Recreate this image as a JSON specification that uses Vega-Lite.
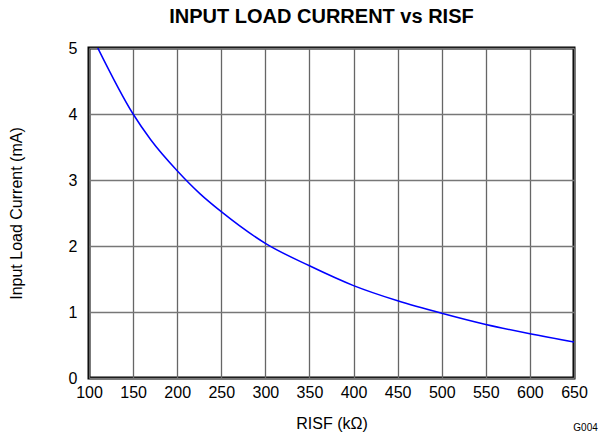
{
  "$schema": "https://vega.github.io/schema/vega-lite/v6.json",
  "autosize": "none",
  "width": 485,
  "height": 330,
  "padding": {"left": 89, "top": 48, "right": 34, "bottom": 58},
  "config": {
    "font": "Liberation Sans",
    "view": {"stroke": "black", "strokeWidth": 3}
  },
  "title": {
    "text": "INPUT LOAD CURRENT vs RISF",
    "font": "Liberation Sans",
    "fontSize": 20,
    "fontWeight": "bold",
    "color": "black",
    "anchor": "middle",
    "offset": 13,
    "dx": -10
  },
  "layer": [
    {
      "data": {
        "values": [
          {"r": 110, "i": 5.0},
          {"r": 150, "i": 4.0},
          {"r": 170, "i": 3.61},
          {"r": 200, "i": 3.14},
          {"r": 226, "i": 2.79},
          {"r": 250, "i": 2.52},
          {"r": 300, "i": 2.04},
          {"r": 350, "i": 1.7},
          {"r": 400, "i": 1.4},
          {"r": 450, "i": 1.17},
          {"r": 500, "i": 0.98},
          {"r": 550, "i": 0.81},
          {"r": 600, "i": 0.67},
          {"r": 650, "i": 0.545}
        ]
      },
      "mark": {"type": "line", "color": "#0000ff", "strokeWidth": 1.5, "interpolate": "monotone", "clip": true},
      "encoding": {
        "x": {
          "field": "r",
          "type": "quantitative",
          "scale": {"domain": [100, 650], "nice": false, "zero": false},
          "axis": {
            "values": [100, 150, 200, 250, 300, 350, 400, 450, 500, 550, 600, 650],
            "format": "d",
            "title": "RISF (kΩ)",
            "titleFont": "Liberation Sans",
            "titleFontSize": 16,
            "titleFontWeight": "normal",
            "titleColor": "black",
            "titlePadding": 15,
            "labelFontSize": 16,
            "labelColor": "black",
            "labelPadding": 6,
            "ticks": false,
            "domain": false,
            "grid": true,
            "gridColor": "#666666",
            "gridWidth": 1.3,
            "labelFlush": false,
            "labelOverlap": false
          }
        },
        "y": {
          "field": "i",
          "type": "quantitative",
          "scale": {"domain": [0, 5], "nice": false},
          "axis": {
            "values": [0, 1, 2, 3, 4, 5],
            "format": "d",
            "title": "Input Load Current (mA)",
            "titleFont": "Liberation Sans",
            "titleFontSize": 16,
            "titleFontWeight": "normal",
            "titleColor": "black",
            "titlePadding": 44,
            "labelFontSize": 16,
            "labelColor": "black",
            "labelPadding": 12,
            "ticks": false,
            "domain": false,
            "grid": true,
            "gridColor": "#777777",
            "gridWidth": 1.3,
            "labelFlush": false,
            "labelOverlap": false
          }
        }
      }
    },
    {
      "data": {"values": [{"r": 677, "i": -0.75, "label": "G004"}]},
      "mark": {"type": "text", "align": "right", "baseline": "middle", "fontSize": 10, "color": "black"},
      "encoding": {
        "x": {"field": "r", "type": "quantitative"},
        "y": {"field": "i", "type": "quantitative"},
        "text": {"field": "label"}
      }
    }
  ]
}
